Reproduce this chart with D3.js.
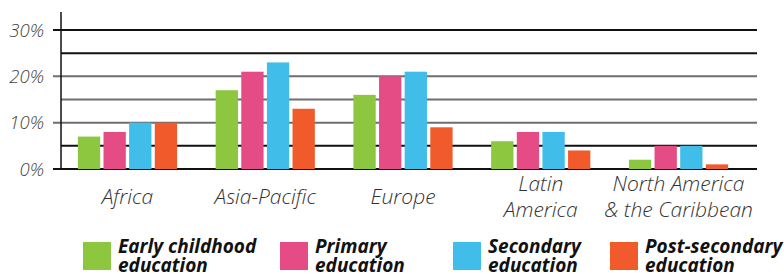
<!DOCTYPE html>
<html>
<head>
<meta charset="utf-8">
<script src="https://cdn.jsdelivr.net/npm/d3@7.9.0/dist/d3.min.js"></script>
<style>
  body { margin: 0; background: #fff; }
  svg { display: block; font-family: "Open Sans", sans-serif; }
</style>
</head>
<body>
<svg id="chart" width="784" height="274"></svg>
<script>
// regions and their (possibly multi-line) labels
const regions = ['Africa', 'Asia-Pacific', 'Europe', 'Latin America', 'North America & the Caribbean'];
const regionLines = [['Africa'], ['Asia-Pacific'], ['Europe'], ['Latin', 'America'], ['North America', '& the Caribbean']];

// series
const levels = ['Early childhood education', 'Primary education', 'Secondary education', 'Post-secondary education'];
const levelLines = [['Early childhood', 'education'], ['Primary', 'education'], ['Secondary', 'education'], ['Post-secondary', 'education']];
const levelColors = ['#8dc63f', '#e54c86', '#40bde8', '#f15a2b'];

// values in % per region, one array per level
const earlyChildhood = [7, 17, 16, 6, 2];
const primary = [8, 21, 20, 8, 5];
const secondary = [10, 23, 21, 8, 5];
const postSecondary = [10, 13, 9, 4, 1];
const series = [earlyChildhood, primary, secondary, postSecondary];

const yTicks = [0, 10, 20, 30];
const gridValues = [0, 5, 10, 15, 20, 25, 30];

const svg = d3.select('#chart');

const x0 = d3.scaleBand().domain(regions).range([58.6, 747.4])
  .paddingInner(0.28).paddingOuter(0.14);
const x1 = d3.scaleBand().domain(levels).range([0, x0.bandwidth()]).paddingInner(0.13);
const y = d3.scaleLinear().domain([0, 30]).range([169, 30]);

// gridlines (labelled ones reach past the axis)
svg.append('g').selectAll('line')
  .data(gridValues)
  .join('line')
  .attr('x1', d => yTicks.includes(d) ? 53 : 61)
  .attr('x2', 757)
  .attr('y1', d => y(d))
  .attr('y2', d => y(d))
  .attr('stroke', d => (d >= 10 && d <= 20) ? '#6e6e6e' : '#111')
  .attr('stroke-width', 2);

// y axis line
svg.append('line')
  .attr('x1', 61).attr('x2', 61)
  .attr('y1', 12).attr('y2', 170)
  .attr('stroke', '#111').attr('stroke-width', 1.5);

// y labels
svg.append('g').selectAll('text')
  .data(yTicks)
  .join('text')
  .attr('x', 44)
  .attr('y', d => y(d) + 6.5)
  .attr('text-anchor', 'end')
  .attr('font-size', 18.5)
  .attr('font-style', 'italic')
  .attr('font-weight', 300)
  .attr('fill', '#444')
  .text(d => d + '%');

// bars
const groups = svg.append('g').selectAll('g')
  .data(regions)
  .join('g')
  .attr('transform', d => `translate(${x0(d)},0)`);

groups.selectAll('rect')
  .data((r, i) => levels.map((l, j) => ({ level: l, value: series[j][i], color: levelColors[j] })))
  .join('rect')
  .attr('x', d => x1(d.level))
  .attr('width', x1.bandwidth())
  .attr('y', d => y(d.value))
  .attr('height', d => y(0) - y(d.value))
  .attr('fill', d => d.color);

// x labels
const xl = svg.append('g').selectAll('text')
  .data(regions)
  .join('text')
  .attr('x', d => x0(d) + x0.bandwidth() / 2)
  .attr('text-anchor', 'middle')
  .attr('font-size', 21)
  .attr('font-style', 'italic')
  .attr('font-weight', 300)
  .attr('fill', '#333');

xl.each(function (d, i) {
  const lines = regionLines[i];
  const top = 204 - (lines.length - 1) * 13;
  d3.select(this).selectAll('tspan')
    .data(lines)
    .join('tspan')
    .attr('x', x0(d) + x0.bandwidth() / 2)
    .attr('y', (t, k) => top + k * 26)
    .text(t => t);
});

// legend
const legendX = [83, 280, 453, 610];
const legend = svg.append('g').selectAll('g')
  .data(levels)
  .join('g')
  .attr('transform', (d, i) => `translate(${legendX[i]},242)`);

legend.append('rect')
  .attr('width', 28).attr('height', 28)
  .attr('fill', (d, i) => levelColors[i]);

legend.append('text')
  .attr('font-size', 19)
  .attr('font-style', 'italic')
  .attr('font-weight', 700)
  .attr('fill', '#111')
  .selectAll('tspan')
  .data((d, i) => levelLines[i])
  .join('tspan')
  .attr('x', 35)
  .attr('y', (t, k) => 11 + k * 19)
  .text(t => t);
</script>
</body>
</html>
